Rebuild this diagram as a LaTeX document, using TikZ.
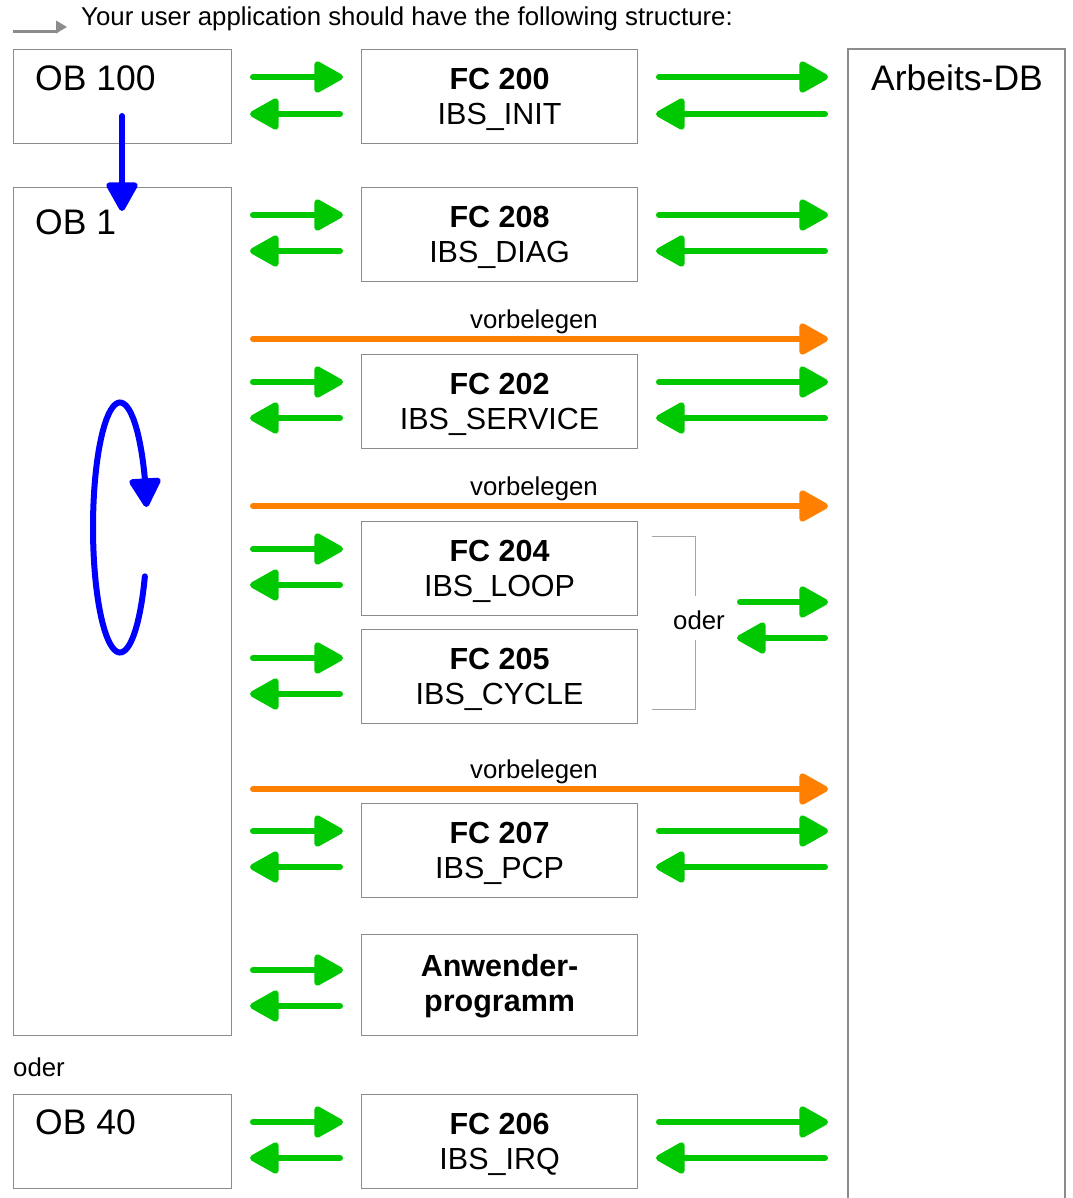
\documentclass[tikz,border=0pt]{standalone}
\usepackage{fontspec}
\setmainfont{Liberation Sans}
\usetikzlibrary{arrows.meta}
\definecolor{grn}{RGB}{0,200,0}
\definecolor{org}{RGB}{255,128,0}
\definecolor{blu}{RGB}{0,0,255}
\definecolor{bxgray}{RGB}{140,140,140}
\definecolor{brgray}{RGB}{165,165,165}
\begin{document}
\begin{tikzpicture}[x=1pt,y=-1pt,
  box/.style={draw=bxgray, line width=1.2pt, anchor=north west, inner sep=0pt},
  fcbox/.style={box, minimum width=276pt, minimum height=94pt},
  fctext/.style={align=center, inner sep=0pt, font=\fontsize{30.5}{35}\selectfont},
  obbox/.style={box, minimum width=218pt},
  obtext/.style={anchor=west, inner sep=0pt, font=\fontsize{35.5}{40}\selectfont},
  small/.style={inner sep=0pt, font=\fontsize{25.8}{30}\selectfont},
  tip/.style={-{Triangle[length=32pt,width=34pt,round]}},
  garrow/.style={draw=grn, line width=6pt, line cap=round, tip},
  oarrow/.style={draw=org, line width=6pt, line cap=round, tip},
  barrow/.style={draw=blu, line width=6pt, line cap=round, tip},
]
\useasboundingbox (0,0) rectangle (1072,1198);

% header
\coordinate (h1) at (13,31.5);
\coordinate (h2) at (58,31.5);
\draw[bxgray, line width=3.5pt] (h1) -- (h2);
\fill[bxgray] (56,20.5) -- (67,27) -- (56,33.5) -- cycle;
\node[small, anchor=west] (title) at (81,18.5) {Your user application should have the following structure:};

% OB boxes
\node[obbox, minimum height=94pt] (ob100) at (13,49) {};
\node[obtext] (ob100t) at (35,78) {OB 100};
\node[obbox, minimum height=848pt] (ob1) at (13,187) {};
\node[obtext] (ob1t) at (35,222) {OB 1};
\node[small, anchor=west] (oder2) at (13,1067) {oder};
\node[obbox, minimum height=94pt] (ob40) at (13,1094) {};
\node[obtext] (ob40t) at (35,1122) {OB 40};

% FC boxes
\node[fcbox] (fc200) at (361,49) {};
\node[fcbox] (fc208) at (361,187) {};
\node[fcbox] (fc202) at (361,354) {};
\node[fcbox] (fc204) at (361,521) {};
\node[fcbox] (fc205) at (361,629) {};
\node[fcbox] (fc207) at (361,803) {};
\node[fcbox, minimum height=101pt] (anw) at (361,934) {};
\node[fcbox] (fc206) at (361,1094) {};
\node[fctext] (fc200t) at ([yshift=-2.5pt]fc200.center) {\textbf{FC 200}\\IBS\_INIT};
\node[fctext] (fc208t) at ([yshift=-2.5pt]fc208.center) {\textbf{FC 208}\\IBS\_DIAG};
\node[fctext] (fc202t) at ([yshift=-2.5pt]fc202.center) {\textbf{FC 202}\\IBS\_SERVICE};
\node[fctext] (fc204t) at ([yshift=-2.5pt]fc204.center) {\textbf{FC 204}\\IBS\_LOOP};
\node[fctext] (fc205t) at ([yshift=-2.5pt]fc205.center) {\textbf{FC 205}\\IBS\_CYCLE};
\node[fctext] (fc207t) at ([yshift=-2.5pt]fc207.center) {\textbf{FC 207}\\IBS\_PCP};
\node[fctext] (anwt) at ([yshift=-1.5pt]anw.center) {\textbf{Anwender-}\\\textbf{programm}};
\node[fctext] (fc206t) at ([yshift=-2.5pt]fc206.center) {\textbf{FC 206}\\IBS\_IRQ};

% Arbeits-DB (open at the bottom)
\coordinate (db1) at (848,1210);
\coordinate (db2) at (848,49);
\coordinate (db3) at (1065,49);
\coordinate (db4) at (1065,1210);
\draw[bxgray, line width=1.2pt] (db1) -- (db2) -- (db3) -- (db4);
\node[obtext, anchor=center] (adb) at (957,78) {Arbeits-DB};

% green arrow pairs, left side
\foreach \n/\ya/\yb in {a/77/114, b/215/251, c/382/418, d/549/585, e/658/694, f/831/867, g/970/1006, h/1122/1158}{
  \coordinate (l\n1) at (253,\ya);
  \coordinate (l\n2) at (343,\ya);
  \coordinate (l\n3) at (340,\yb);
  \coordinate (l\n4) at (250,\yb);
  \draw[garrow] (l\n1) -- (l\n2);
  \draw[garrow] (l\n3) -- (l\n4);
}
% green arrow pairs, right side
\foreach \n/\xa/\ya/\yb in {a/659/77/114, b/659/215/251, c/659/382/418, f/659/831/867, h/659/1122/1158, o/740/602/638}{
  \coordinate (r\n1) at (\xa,\ya);
  \coordinate (r\n2) at (828,\ya);
  \coordinate (r\n3) at (825,\yb);
  \coordinate (r\n4) at (\xa-3,\yb);
  \draw[garrow] (r\n1) -- (r\n2);
  \draw[garrow] (r\n3) -- (r\n4);
}

% orange arrows
\foreach \n/\y in {1/339, 2/506, 3/789}{
  \coordinate (o\n1) at (253,\y);
  \coordinate (o\n2) at (828,\y);
  \draw[oarrow] (o\n1) -- (o\n2);
  \node[small] (vb\n) at (534,\y-17) {vorbelegen};
}

% bracket with "oder"
\node[small] (oder1) at (699,620) {oder};
\draw[brgray, line width=1pt] (652,536) -- (695,536) -- (695,596);
\draw[brgray, line width=1pt] (695,640) -- (695,709) -- (652,709);

% blue arrow OB 100 -> OB 1
\coordinate (bs) at (122,116);
\coordinate (be) at (122,211);
\draw[barrow] (bs) -- (be);

% blue cycle
\draw[blu, line width=6pt, line cap=round]
  plot[domain=-23:-337, samples=80, smooth] ({120+27*cos(\x)},{527.5-125*sin(\x)});
\coordinate (cb) at ({120+27*cos(-337)},{527.5-125*sin(-337)});
\coordinate (ct) at (146.5,507);
\draw[barrow] (cb) -- (ct);
\end{tikzpicture}
\end{document}
